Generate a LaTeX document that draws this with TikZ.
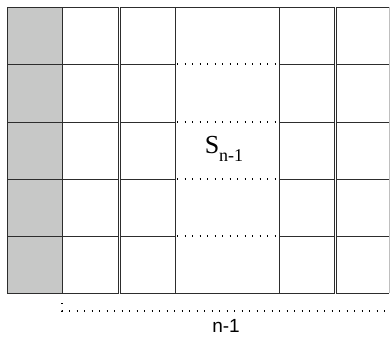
\documentclass[tikz,border=0pt]{standalone}
\usepackage{fontspec}
\setmainfont{Liberation Serif}
\setsansfont{Liberation Sans}
\definecolor{cellgray}{RGB}{199,200,199}
\definecolor{linecol}{RGB}{45,45,45}
\tikzset{
  cell/.style={draw=linecol, line width=0.9pt},
  dots/.style={draw=black, line width=1.2pt, dash pattern=on 1.2pt off 6.3pt},
}
\begin{document}
\begin{tikzpicture}[x=1pt,y=-1pt]
\useasboundingbox (0,0) rectangle (390,337);
% gray first column
\fill[cellgray] (7,7) rectangle (62,293);
% columns of cells
\foreach \xa/\xb in {7/62, 62/118, 120/175, 279/334}{
  \foreach \ya/\yb in {7/64, 64/122, 122/179, 179/236, 236/293}{
    \draw[cell] (\xa,\ya) rectangle (\xb,\yb);
  }
}
% last column with light right border
\foreach \ya/\yb in {7/64, 64/122, 122/179, 179/236, 236/293}{
  \draw[cell] (389,\ya) -- (336,\ya) -- (336,\yb) -- (389,\yb);
}
\draw[draw=black!25, line width=0.8pt] (389,7) -- (389,293);
% middle block
\draw[cell] (175,7) -- (279,7);
\draw[cell] (175,293) -- (279,293);
\foreach \y in {64,122,179,236}{
  \draw[dots] (177,\y) -- (278,\y);
}
% bottom dotted measure
\draw[dots] (62,303) -- (62,311) -- (387,311);
\node[font=\fontsize{26}{28}\selectfont, inner sep=0pt] (s) at (224,149)
  {S\raisebox{-0.28em}{\fontsize{18}{20}\selectfont n-1}};
\node[font=\sffamily\fontsize{19}{21}\selectfont, inner sep=0pt] (n) at (226,326) {n-1};
\end{tikzpicture}
\end{document}
